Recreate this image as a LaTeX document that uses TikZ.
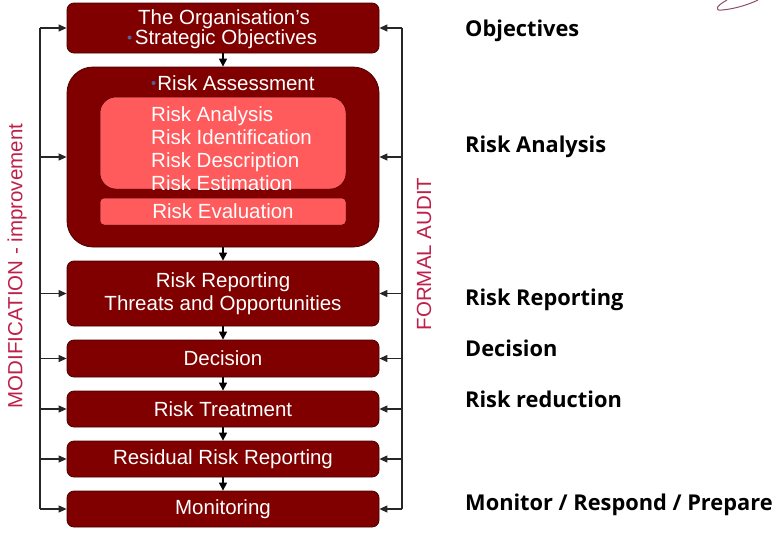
\documentclass[tikz,border=0pt]{standalone}
\usepackage{fontspec}
\setmainfont{Liberation Sans}
\newfontfamily\lblfont{Open Sans}
\usetikzlibrary{arrows.meta}
\definecolor{maroon}{HTML}{800000}
\definecolor{maroonedge}{HTML}{4A0000}
\definecolor{pinkfill}{HTML}{FF5A5C}
\definecolor{auditred}{HTML}{BE2049}
\definecolor{bulletblue}{HTML}{4A64A0}
\definecolor{curlcol}{HTML}{8E4C6E}
\tikzset{
  procbox/.style={draw=maroonedge, line width=0.8pt, fill=maroon, rounded corners=7pt,
    minimum width=312pt, inner sep=0pt, text=white, font=\fontsize{20.5}{22.5}\selectfont, align=center},
  bigbox/.style={draw=maroonedge, line width=0.8pt, fill=maroon, rounded corners=26pt,
    minimum width=312pt, minimum height=180pt, inner sep=0pt},
  pinkbox/.style={draw=maroonedge, line width=0.5pt, fill=pinkfill, inner sep=0pt},
  boxtext/.style={text=white, font=\fontsize{20.5}{23}\selectfont, inner sep=0pt},
  flow/.style={line width=1.2pt, -{Triangle[length=8pt,width=8pt]}},
  fb/.style={line width=1.2pt, black!85},
  fbarrow/.style={line width=1.2pt, black!85, -{Triangle[length=8pt,width=7pt]}},
  sidelabel/.style={text=auditred, font=\fontsize{20.5}{22}\selectfont, rotate=90, inner sep=0pt},
  rightlabel/.style={anchor=base west, font=\lblfont\bfseries\fontsize{21.8}{24}\selectfont, inner sep=0pt},
  bulletdot/.style={circle, fill=bulletblue, minimum size=4pt, inner sep=0pt}
}
\begin{document}
\begin{tikzpicture}[x=1pt,y=-1pt]
\useasboundingbox (0,0) rectangle (783,533);
% boxes
\node[procbox, minimum height=50pt] (obj) at (223,28) {};
\node[bigbox] (ra) at (223,157) {};
\node[pinkbox, rounded corners=16pt, minimum width=246pt, minimum height=92pt] (inner) at (223,143) {};
\node[pinkbox, rounded corners=4pt, minimum width=246pt, minimum height=27pt] (eval) at (223,211.5) {};
\node[procbox, minimum height=65pt] (rep) at (223,293.5) {Risk Reporting\\Threats and Opportunities};
\node[procbox, minimum height=37pt] (dec) at (223,358.5) {Decision};
\node[procbox, minimum height=36pt] (treat) at (223,409) {Risk Treatment};
\node[procbox, minimum height=36pt] (resid) at (223,459) {Residual Risk Reporting};
\node[procbox, minimum height=36pt] (mon) at (223,509) {Monitoring};
% texts inside top boxes
\node[boxtext, anchor=base] (objt1) at (224,24) {The Organisation’s};
\node[boxtext, anchor=base] (objt2) at (226,44) {Strategic Objectives};
\node[bulletdot] (objdot) at (129.5,37.5) {};
\node[boxtext, anchor=base] (rat) at (236,90) {Risk Assessment};
\node[bulletdot] (radot) at (153.5,83) {};
\begin{scope}
  \clip[rounded corners=16pt] (100,97) rectangle (346,189);
  \node[boxtext, anchor=base west, align=left] (innert) at (151,190)
    {Risk Analysis\\Risk Identification\\Risk Description\\Risk Estimation};
\end{scope}
\node[boxtext, anchor=base] (evalt) at (223,218) {Risk Evaluation};
% flow arrows
\draw[flow] (obj.south) -- (ra.north);
\draw[flow] (ra.south) -- (rep.north);
\draw[flow] (rep.south) -- (dec.north);
\draw[flow] (dec.south) -- (treat.north);
\draw[flow] (treat.south) -- (resid.north);
\draw[flow] (resid.south) -- (mon.north);
% left feedback
\coordinate (lt) at (40,28);
\coordinate (lb) at (40,509);
\draw[fb] (lt) -- (lb);
\foreach \n in {obj,ra,rep,dec,treat,resid,mon}{
  \draw[fbarrow] (\n.west -| lt) -- (\n.west);
}
% right feedback
\coordinate (rt) at (402,28);
\coordinate (rb) at (402,509);
\draw[fb] (rt) -- (rb);
\foreach \n in {obj,ra,rep,dec,treat,resid,mon}{
  \draw[fbarrow] (\n.east -| rt) -- (\n.east);
}
% side labels
\node[sidelabel] (modlbl) at (17,266) {MODIFICATION - improvement};
\node[sidelabel] (auditlbl) at (424,254) {FORMAL AUDIT};
% right labels
\node[rightlabel] (l1) at (465,36) {Objectives};
\node[rightlabel] (l2) at (465,152) {Risk Analysis};
\node[rightlabel] (l3) at (465,305) {Risk Reporting};
\node[rightlabel] (l4) at (465,356) {Decision};
\node[rightlabel] (l5) at (465,407) {Risk reduction};
\node[rightlabel] (l6) at (465,510) {Monitor / Respond / Prepare};
% curl fragment
\draw[curlcol, line width=1pt] (727,0) .. controls (716,6) and (714,11) .. (722,10) .. controls (735,9) and (750,4) .. (758,0);
\end{tikzpicture}
\end{document}
